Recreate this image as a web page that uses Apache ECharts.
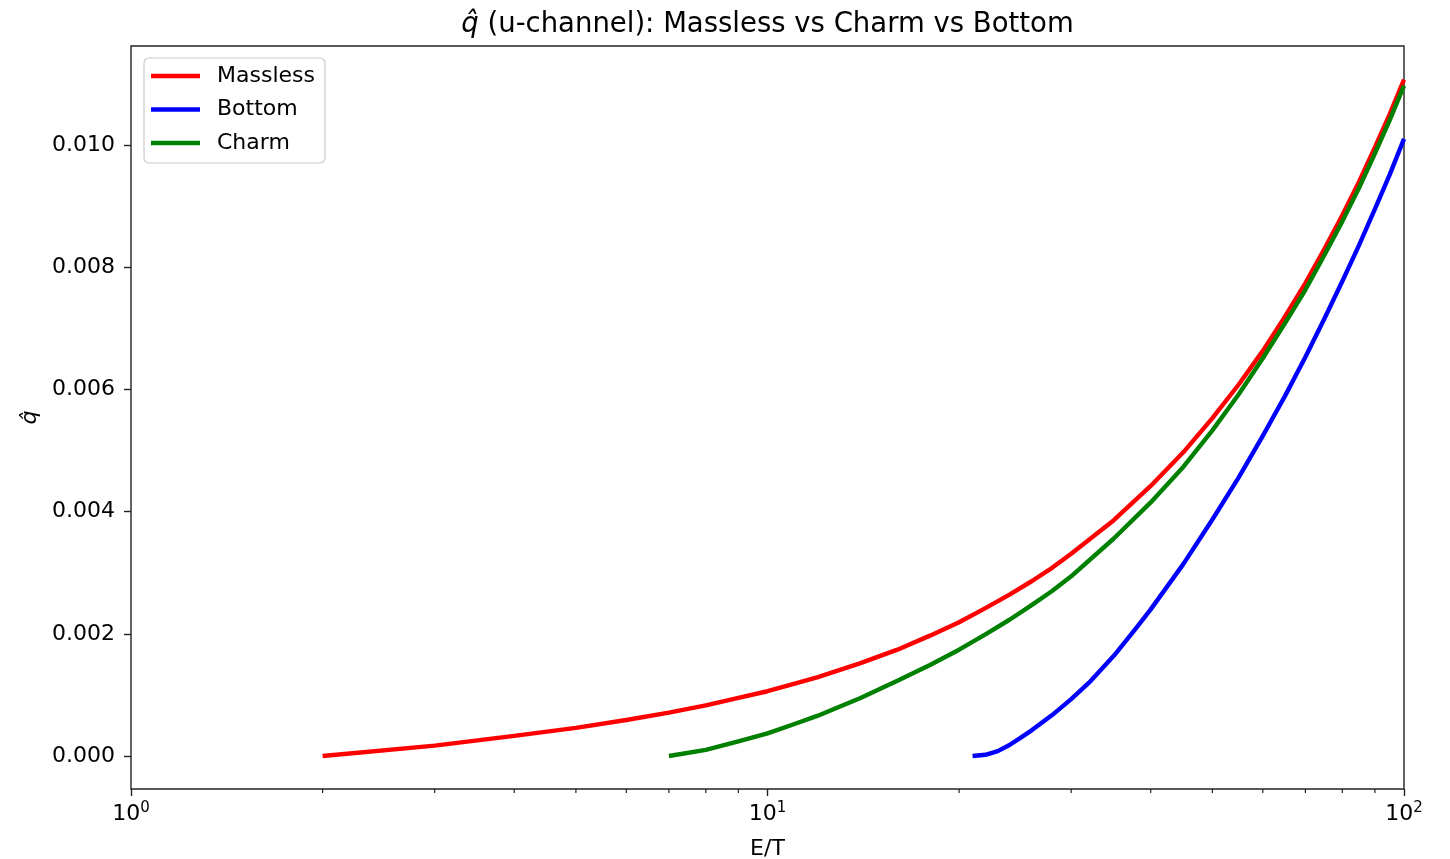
<!DOCTYPE html>
<html>
<head>
<meta charset="utf-8">
<script src="https://cdn.jsdelivr.net/npm/echarts@6/dist/echarts.min.js"></script>
<style>
html,body{margin:0;padding:0;background:#fff;}
#chart{width:1450px;height:859px;}
</style>
</head>
<body>
<div id="chart"></div>
<script>
// ---- data ----
const massE = [2,3,4,5,6,7,8,9,10,11,12,13,14,16,18,20,22,24,26,28,30,35,40,45,50,55,60,65,70,75,80,85,90,95,100];
const massQ = [0,0.00017,0.00033,0.00046,0.00059,0.00071,0.00083,0.00095,0.00106,0.00118,0.00129,0.00141,0.00152,0.00174,0.00197,0.00219,0.00242,0.00264,0.00286,0.00308,0.00331,0.00386,0.00442,0.00497,0.00553,0.00608,0.00663,0.00719,0.00774,0.0083,0.00885,0.0094,0.00996,0.01051,0.01107];

const bottomE = [21,22,23,24,25,26,28,30,32,35,38,40,45,50,55,60,65,70,75,80,85,90,95,100];
const bottomQ = [0,0.00002,0.00008,0.00018,0.0003,0.00042,0.00067,0.00093,0.0012,0.00164,0.0021,0.0024,0.00314,0.00387,0.00456,0.00524,0.00589,0.00653,0.00716,0.00777,0.00836,0.00895,0.00952,0.0101];

const charmE = [7,8,9,10,11,12,13,14,16,18,20,22,24,26,28,30,35,40,45,50,55,60,65,70,75,80,85,90,95,100];
const charmQ = [0,0.0001,0.00024,0.00037,0.00052,0.00066,0.00081,0.00095,0.00123,0.00149,0.00174,0.00199,0.00223,0.00247,0.0027,0.00294,0.00356,0.00415,0.00473,0.00533,0.00592,0.00651,0.00708,0.00763,0.0082,0.00875,0.0093,0.00986,0.01041,0.01097];

const yTicks = [0,0.002,0.004,0.006,0.008,0.010];
const xMinorTicks = [2,3,4,5,6,7,8,9,20,30,40,50,60,70,80,90];

const seriesNames = ['Massless','Bottom','Charm'];
// --------------------------------------

const FONT = 'DejaVu Sans';
const pairs = (xs, ys) => xs.map((x, i) => [x, ys[i]]);

const chart = echarts.init(document.getElementById('chart'), null, {renderer: 'canvas'});

const lineSeries = (name, xs, ys, color) => ({
  name: name,
  type: 'line',
  data: pairs(xs, ys),
  showSymbol: false,
  symbol: 'none',
  smooth: false,
  lineStyle: {width: 4.4, color: color, join: 'round', cap: 'butt'},
  itemStyle: {color: color},
  z: 3
});

chart.setOption({
  animation: false,
  backgroundColor: '#ffffff',
  title: {
    text: '{i|q\u0302} (u-channel): Massless vs Charm vs Bottom',
    left: 767.5,
    top: 11,
    textAlign: 'center',
    padding: 0,
    textStyle: {
      fontFamily: FONT, fontSize: 27.5, fontWeight: 'normal', color: '#000',
      rich: {i: {fontFamily: FONT, fontSize: 27.5, fontStyle: 'italic', color: '#000'}}
    }
  },
  legend: {
    data: seriesNames,
    orient: 'vertical',
    left: 144,
    top: 58,
    icon: 'rect',
    itemWidth: 49,
    itemHeight: 4.4,
    itemGap: 11.5,
    padding: [7, 10, 9, 7],
    borderColor: '#cccccc',
    borderWidth: 1.2,
    borderRadius: 5,
    backgroundColor: 'rgba(255,255,255,0.8)',
    selectedMode: false,
    textStyle: {fontFamily: FONT, fontSize: 22, color: '#000', lineHeight: 22, padding: [0, 0, 0, 12]}
  },
  grid: {
    left: 131, right: 46, top: 46, bottom: 70,
    outerBoundsMode: 'none',
    containLabel: false,
    show: true, borderColor: '#222', borderWidth: 1.4, backgroundColor: 'transparent'
  },
  xAxis: {
    type: 'log',
    logBase: 10,
    min: 1,
    max: 100,
    name: 'E/T',
    nameLocation: 'middle',
    nameGap: 49,
    nameTextStyle: {fontFamily: FONT, fontSize: 22, color: '#000'},
    axisLine: {show: false, onZero: false},
    axisTick: {show: true, inside: false, length: 7, lineStyle: {color: '#222', width: 1.4}},
    splitLine: {show: false},
    minorTick: {show: false},
    axisLabel: {
      margin: 12,
      color: '#000',
      fontFamily: FONT,
      fontSize: 22,
      formatter: function (v) {
        const e = Math.round(Math.log10(v));
        return '{b|10}{s|' + e + '}';
      },
      rich: {
        b: {fontFamily: FONT, fontSize: 22, color: '#000'},
        s: {fontFamily: FONT, fontSize: 15, color: '#000', padding: [0, 0, 12, 0]}
      }
    }
  },
  yAxis: {
    type: 'value',
    min: -0.00054,
    max: 0.01162,
    splitNumber: 6,
    name: 'q\u0302',
    nameLocation: 'middle',
    nameGap: 88,
    nameRotate: 90,
    nameTextStyle: {fontFamily: FONT, fontSize: 22, fontStyle: 'italic', color: '#000'},
    axisLine: {show: false, onZero: false},
    axisTick: {show: true, inside: false, length: 7, customValues: yTicks, lineStyle: {color: '#222', width: 1.4}},
    splitLine: {show: false},
    axisLabel: {
      margin: 16,
      color: '#000',
      fontFamily: FONT,
      fontSize: 22,
      customValues: yTicks,
      formatter: function (v) { return v.toFixed(3); }
    }
  },
  series: [
    lineSeries('Massless', massE, massQ, '#ff0000'),
    lineSeries('Bottom', bottomE, bottomQ, '#0000ff'),
    lineSeries('Charm', charmE, charmQ, '#008000'),
    {
      type: 'custom',
      silent: true,
      clip: false,
      z: 5,
      data: xMinorTicks.map(v => [v, 0]),
      encode: {x: 0, y: 1},
      renderItem: function (params, api) {
        const x = api.coord([api.value(0), 0])[0];
        const cs = params.coordSys;
        const yb = cs.y + cs.height;
        return {
          type: 'line',
          shape: {x1: x, y1: yb, x2: x, y2: yb + 4},
          style: {stroke: '#222', lineWidth: 1.2}
        };
      }
    }
  ]
});
</script>
</body>
</html>
